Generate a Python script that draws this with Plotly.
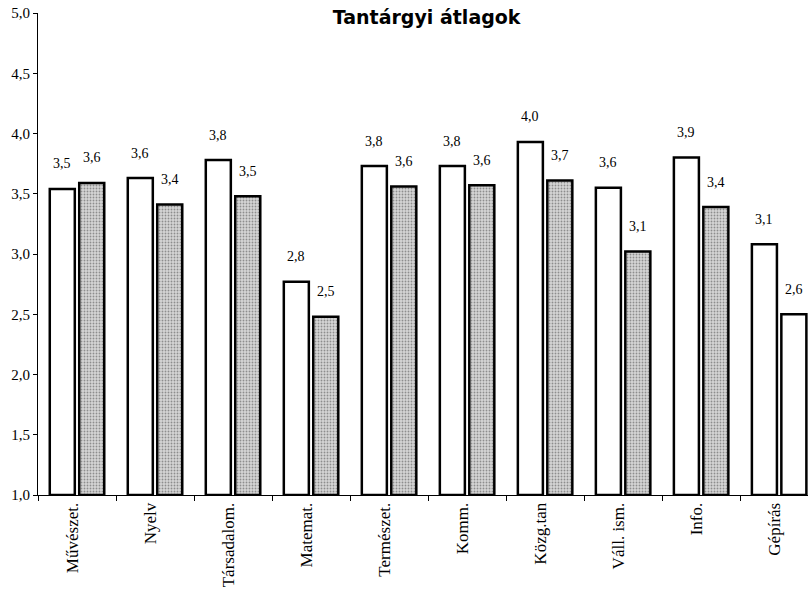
import plotly.graph_objects as go

categories = ["Művészet.", "Nyelv", "Társadalom.", "Matemat.", "Természet.",
              "Komm.", "Közg.tan", "Váll. ism.", "Info.", "Gépírás"]
series_a = [3.54, 3.63, 3.78, 2.77, 3.73, 3.73, 3.93, 3.55, 3.80, 3.08]
series_b = [3.59, 3.41, 3.48, 2.48, 3.56, 3.57, 3.61, 3.02, 3.39, 2.50]
labels_a = ["3,5", "3,6", "3,8", "2,8", "3,8", "3,8", "4,0", "3,6", "3,9", "3,1"]
labels_b = ["3,6", "3,4", "3,5", "2,5", "3,6", "3,6", "3,7", "3,1", "3,4", "2,6"]
y_ticks = [1.0, 1.5, 2.0, 2.5, 3.0, 3.5, 4.0, 4.5, 5.0]

serif = "Liberation Serif"

fig = go.Figure()
fig.add_trace(go.Bar(
    x=categories, y=[v - 1.0 for v in series_a], base=1.0,
    marker=dict(color="white", line=dict(color="black", width=2.5)),
    showlegend=False, hoverinfo="skip"))
b_colors = ["#d6d6d6"] * (len(categories) - 1) + ["white"]
b_shapes = ["."] * (len(categories) - 1) + [""]
fig.add_trace(go.Bar(
    x=categories, y=[v - 1.0 for v in series_b], base=1.0,
    marker=dict(color=b_colors, line=dict(color="black", width=2.5),
                pattern=dict(shape=b_shapes, fgcolor="#8c8c8c", bgcolor=b_colors,
                             size=3, solidity=0.3, fillmode="overlay")),
    showlegend=False, hoverinfo="skip"))

ann = []
for c, v, t in zip(categories, series_a, labels_a):
    ann.append(dict(x=c, y=v, text=t, xshift=-15, yshift=25, showarrow=False,
                    font=dict(family=serif, size=14, color="black")))
for c, v, t in zip(categories, series_b, labels_b):
    ann.append(dict(x=c, y=v, text=t, xshift=15, yshift=25, showarrow=False,
                    font=dict(family=serif, size=14, color="black")))

fig.update_layout(
    width=808, height=592,
    paper_bgcolor="white", plot_bgcolor="white",
    margin=dict(l=38, r=0, t=13, b=97),
    barmode="group", bargap=0.245, bargroupgap=0.15,
    separators=", ",
    title=dict(text="<b>Tantárgyi átlagok</b>", x=0.528, xanchor="center",
               y=0.971, yanchor="middle",
               font=dict(family="DejaVu Sans", size=19, color="black")),
    annotations=ann,
    xaxis=dict(range=[-0.5, 9.37], showline=True, linecolor="black", linewidth=1,
               ticks="outside", tickson="boundaries", ticklen=5, tickcolor="black",
               tickangle=-90, ticklabelshift=-5,
               tickfont=dict(family=serif, size=17, color="black"),
               showgrid=False, zeroline=False),
    yaxis=dict(range=[1, 5], tickvals=y_ticks, tickformat=".1f",
               showline=True, linecolor="black", linewidth=1,
               ticks="outside", ticklen=4, tickcolor="black",
               tickfont=dict(family=serif, size=15, color="black"),
               showgrid=False, zeroline=False),
)

fig.write_html("out.html", config={"displayModeBar": False},
               post_script="document.body.style.margin='0';")
